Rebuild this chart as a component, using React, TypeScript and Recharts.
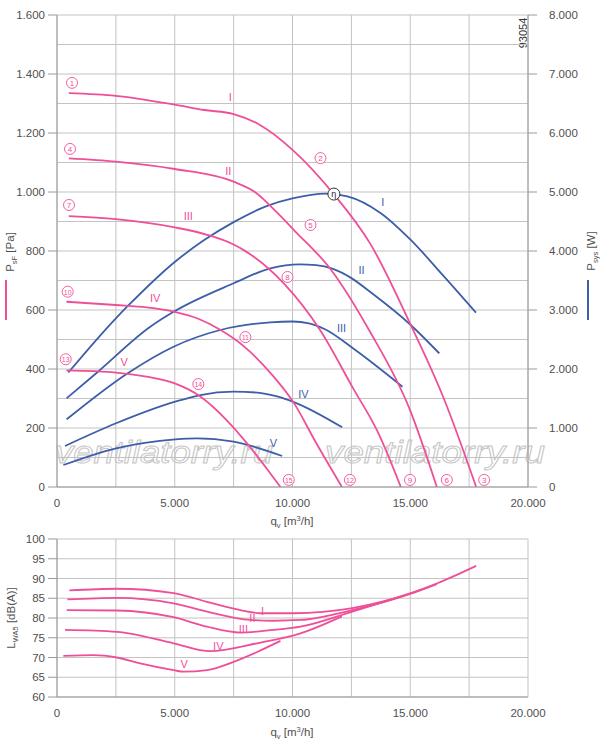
import React from 'react';
import { ComposedChart, Line, XAxis, YAxis, CartesianGrid, ReferenceDot } from 'recharts';

type Pt = [number, number];

// axis ticks
const flowTicks = [0, 2500, 5000, 7500, 10000, 12500, 15000, 17500, 20000];
const pressureTicks = [0, 100, 200, 300, 400, 500, 600, 700, 800, 900, 1000, 1100, 1200, 1300, 1400, 1500, 1600];
const powerTicks = [0, 1000, 2000, 3000, 4000, 5000, 6000, 7000, 8000];
const soundTicks = [60, 65, 70, 75, 80, 85, 90, 95, 100];

// static pressure psF [Pa] vs qv [m3/h], speeds I..V
const pressureI: Pt[] = [[500, 1335], [2500, 1326], [5000, 1296], [6250, 1278], [7500, 1264], [8600, 1228], [10000, 1143], [11750, 993], [13300, 825], [15000, 553], [16400, 305], [17800, 0]];
const pressureII: Pt[] = [[500, 1114], [2500, 1103], [5000, 1078], [7500, 1035], [8400, 1000], [9350, 930], [10050, 872], [11650, 735], [13280, 528], [14970, 265], [16130, 0]];
const pressureIII: Pt[] = [[500, 918], [2500, 908], [5000, 880], [6370, 855], [7500, 822], [7930, 803], [9630, 690], [11170, 532], [12570, 335], [13600, 190], [14600, 0]];
const pressureIV: Pt[] = [[400, 628], [2500, 617], [3800, 609], [5000, 594], [5950, 572], [6950, 532], [7950, 476], [9200, 374], [10050, 286], [11000, 150], [12100, 0]];
const pressureV: Pt[] = [[400, 395], [2500, 388], [3800, 374], [5000, 351], [6100, 306], [7200, 227], [8070, 148], [9060, 46], [9490, 0]];

// power Psys [W]
const powerI: Pt[] = [[480, 1940], [2500, 2860], [3050, 3085], [5000, 3814], [6250, 4185], [7500, 4490], [8900, 4760], [10000, 4890], [11400, 4972], [12330, 4925], [13750, 4640], [15020, 4187], [16440, 3565], [17790, 2955]];
const powerII: Pt[] = [[410, 1503], [1690, 1937], [3960, 2717], [4950, 2970], [7500, 3453], [9060, 3707], [10300, 3775], [11000, 3760], [11690, 3700], [12500, 3540], [13320, 3300], [15020, 2746], [16230, 2266]];
const powerIII: Pt[] = [[410, 1147], [3035, 1937], [4950, 2378], [6935, 2661], [9060, 2790], [10000, 2805], [10700, 2775], [11400, 2670], [12610, 2340], [14670, 1700]];
const powerIV: Pt[] = [[340, 695], [2510, 1080], [5020, 1446], [6085, 1559], [7500, 1615], [8500, 1600], [9300, 1540], [10055, 1440], [12110, 1012]];
const powerV: Pt[] = [[270, 373], [2510, 656], [5020, 808], [5940, 825], [7500, 768], [9560, 525]];

// sound power LWA5 [dB(A)]
const soundI: Pt[] = [[525, 87.0], [2540, 87.4], [4950, 86.3], [6370, 84.1], [7790, 82.0], [8640, 81.2], [10050, 81.2], [12540, 82.5], [15020, 86.3], [16150, 88.8], [17800, 93.2]];
const soundII: Pt[] = [[440, 84.7], [2540, 85.1], [4950, 83.7], [6370, 81.6], [8210, 79.5], [9200, 79.3], [10340, 79.5], [12540, 82.0], [15000, 86.1], [16130, 88.6]];
const soundIII: Pt[] = [[410, 82.0], [2540, 81.9], [4950, 80.2], [6370, 77.8], [7790, 76.3], [9200, 77.0], [10340, 77.8], [12540, 81.6], [14600, 85.4]];
const soundIV: Pt[] = [[340, 77.0], [2540, 76.5], [4950, 73.6], [6500, 71.6], [8500, 73.6], [10340, 76.1], [12100, 80.4]];
const soundV: Pt[] = [[270, 70.4], [1550, 70.6], [2540, 70.0], [3530, 68.5], [4950, 66.8], [5380, 66.4], [6370, 66.8], [7500, 68.9], [8500, 71.4], [9490, 74.2]];

const speeds = ['I', 'II', 'III', 'IV', 'V'];

// annotation anchors (data units)
const pointTags: [string, number, number][] = [
  ['1', 638, 1370], ['4', 553, 1146], ['7', 510, 956], ['10', 455, 662], ['13', 370, 433],
  ['2', 11190, 1115], ['5', 10765, 888], ['8', 9787, 712], ['11', 7999, 508], ['14', 6000, 349],
  ['15', 9842, 24], ['12', 12437, 24], ['9', 14990, 24], ['6', 16552, 24], ['3', 18139, 24],
];
const pressureTags: Pt[] = [[7361, 1322], [7276, 1071], [5574, 919], [4170, 641], [2851, 424]];
const powerTags: Pt[] = [[13829, 4831], [12935, 3678], [12084, 2695], [10467, 1576], [9191, 746]];
const soundTags: Pt[] = [[8723, 81.8], [8297, 80.0], [7914, 77.2], [6850, 72.9], [5404, 68.3]];
const bestPoint: Pt = [11757, 993];

const PINK = '#ef4f98';
const BLUE = '#3d5ea8';
const GRID = '#c3c3c3';
const AXIS = '#9a9a9a';
const TXT = '#505050';
const FONT = 'Liberation Sans, Arial, sans-serif';

const fmt = (v: number) => String(v).replace(/\B(?=(\d{3})+(?!\d))/g, '.');
const rows = (pts: Pt[]) => pts.map(([q, v]) => ({ q, v }));

const leftTick = (step: number) => (p: any) => {
  const v = p.payload.value;
  if (v % step !== 0) return <g />;
  return (
    <g>
      <line x1={p.x - 9} x2={p.x} y1={p.y} y2={p.y} stroke={AXIS} />
      <text x={p.x - 12} y={p.y + 4} textAnchor="end" fontSize={11.5} fill={TXT} fontFamily={FONT}>{fmt(v)}</text>
    </g>
  );
};

const rightTick = (p: any) => (
  <g>
    <line x1={p.x} x2={p.x + 9} y1={p.y} y2={p.y} stroke={AXIS} />
    <text x={p.x + 21} y={p.y + 4} textAnchor="start" fontSize={11.5} fill={TXT} fontFamily={FONT}>{fmt(p.payload.value)}</text>
  </g>
);

const flowTick = (p: any) => {
  const v = p.payload.value;
  if (v % 5000 !== 0) return <g />;
  return <text x={p.x} y={p.y + 20} textAnchor="middle" fontSize={11.5} fill={TXT} fontFamily={FONT}>{fmt(v)}</text>;
};

const circledTag = (n: string) => (p: any) => (
  <g>
    <circle cx={p.cx} cy={p.cy} r={5.5} fill="#fff" stroke={PINK} strokeWidth={0.9} />
    <text x={p.cx} y={p.cy + 2.8} textAnchor="middle" fontSize={n.length > 1 ? 7 : 8} fill={PINK} fontFamily={FONT}>{n}</text>
  </g>
);

const textTag = (t: string, color: string) => (p: any) => (
  <text x={p.cx} y={p.cy + 4} textAnchor="middle" fontSize={11} fill={color} fontFamily={FONT}>{t}</text>
);

const bestTag = (p: any) => (
  <g>
    <circle cx={p.cx} cy={p.cy} r={6} fill="#fff" stroke="#333" strokeWidth={1} />
    <text x={p.cx} y={p.cy + 3} textAnchor="middle" fontSize={9} fill="#222" fontFamily={FONT}>η</text>
  </g>
);

const pressureSeries = [pressureI, pressureII, pressureIII, pressureIV, pressureV];
const powerSeries = [powerI, powerII, powerIII, powerIV, powerV];
const soundSeries = [soundI, soundII, soundIII, soundIV, soundV];

const Backdrop = () => (
  <svg width={600} height={747} style={{ position: 'absolute', left: 0, top: 0 }}>
    <g fontFamily={FONT} fill={TXT}>
      <text x={292} y={525} textAnchor="middle" fontSize={11.5}>q<tspan fontSize={7.5} dy={3}>v</tspan><tspan dy={-3}> [m</tspan><tspan fontSize={7.5} dy={-4}>3</tspan><tspan dy={4}>/h]</tspan></text>
      <text x={292} y={736} textAnchor="middle" fontSize={11.5}>q<tspan fontSize={7.5} dy={3}>v</tspan><tspan dy={-3}> [m</tspan><tspan fontSize={7.5} dy={-4}>3</tspan><tspan dy={4}>/h]</tspan></text>
      <text transform="rotate(-90 14 252)" x={14} y={252} textAnchor="middle" fontSize={11.5}>P<tspan fontSize={7.5} dy={3}>sF</tspan><tspan dy={-3}> [Pa]</tspan></text>
      <text transform="rotate(-90 595 251)" x={595} y={251} textAnchor="middle" fontSize={11.5}>P<tspan fontSize={7.5} dy={3}>sys</tspan><tspan dy={-3}> [W]</tspan></text>
      <text transform="rotate(-90 15 618)" x={15} y={618} textAnchor="middle" fontSize={11.5}>L<tspan fontSize={7.5} dy={3}>WA5</tspan><tspan dy={-3}> [dB(A)]</tspan></text>
      <text transform="rotate(-90 527 33)" x={527} y={33} textAnchor="middle" fontSize={11} fill="#333">93054</text>
    </g>
    <line x1={6} x2={6} y1={280} y2={320} stroke={PINK} strokeWidth={2} />
    <line x1={588} x2={588} y1={280} y2={320} stroke={BLUE} strokeWidth={2} />
    <g fontFamily={FONT} fontStyle="italic" fontSize={32} fill="#fff" stroke="#c6c6c6" strokeWidth={1}>
      <text x={55} y={463} textLength={218} lengthAdjust="spacingAndGlyphs">ventilatorry.ru</text>
      <text x={325} y={463} textLength={220} lengthAdjust="spacingAndGlyphs">ventilatorry.ru</text>
    </g>
  </svg>
);

export default function App() {
  return (
    <div style={{ position: 'absolute', left: 0, top: 0, width: 600, height: 747, background: '#fff' }}>
      <Backdrop />
      <div style={{ position: 'absolute', left: 0, top: 0 }}>
        <ComposedChart width={600} height={530} margin={{ top: 15, right: 0, bottom: 13, left: 0 }}>
          <CartesianGrid stroke={GRID} />
          <XAxis type="number" dataKey="q" domain={[0, 20000]} ticks={flowTicks} interval={0} height={30}
            tick={flowTick} tickLine={false} tickSize={0} tickMargin={0} axisLine={{ stroke: AXIS }} allowDataOverflow />
          <YAxis type="number" domain={[0, 1600]} ticks={pressureTicks} interval={0} width={57}
            tick={leftTick(200)} tickLine={false} tickSize={0} tickMargin={0} axisLine={{ stroke: AXIS }} allowDataOverflow />
          <YAxis yAxisId="w" orientation="right" type="number" domain={[0, 8000]} ticks={powerTicks} interval={0} width={72}
            tick={rightTick} tickLine={false} tickSize={0} tickMargin={0} axisLine={{ stroke: AXIS }} allowDataOverflow />
          {powerSeries.map((s, i) => (
            <Line key={'w' + i} yAxisId="w" data={rows(s)} dataKey="v" type="monotone" stroke={BLUE} strokeWidth={1.8}
              dot={false} activeDot={false} isAnimationActive={false} />
          ))}
          {pressureSeries.map((s, i) => (
            <Line key={'p' + i} data={rows(s)} dataKey="v" type="monotone" stroke={PINK} strokeWidth={1.8}
              dot={false} activeDot={false} isAnimationActive={false} />
          ))}
          {pressureTags.map(([q, v], i) => (
            <ReferenceDot key={'pt' + i} x={q} y={v} r={1} shape={textTag(speeds[i], PINK)} />
          ))}
          {powerTags.map(([q, v], i) => (
            <ReferenceDot key={'wt' + i} yAxisId="w" x={q} y={v} r={1} shape={textTag(speeds[i], BLUE)} />
          ))}
          {pointTags.map(([n, q, v]) => (
            <ReferenceDot key={'c' + n} x={q} y={v} r={5} shape={circledTag(n)} />
          ))}
          <ReferenceDot x={bestPoint[0]} y={bestPoint[1]} r={6} shape={bestTag} />
        </ComposedChart>
      </div>
      <div style={{ position: 'absolute', left: 0, top: 530 }}>
        <ComposedChart width={600} height={217} margin={{ top: 9, right: 72, bottom: 20, left: 0 }}>
          <CartesianGrid stroke={GRID} />
          <XAxis type="number" dataKey="q" domain={[0, 20000]} ticks={flowTicks} interval={0} height={30}
            tick={flowTick} tickLine={false} tickSize={0} tickMargin={0} axisLine={{ stroke: AXIS }} allowDataOverflow />
          <YAxis type="number" domain={[60, 100]} ticks={soundTicks} interval={0} width={57}
            tick={leftTick(5)} tickLine={false} tickSize={0} tickMargin={0} axisLine={{ stroke: AXIS }} allowDataOverflow />
          {soundSeries.map((s, i) => (
            <Line key={'s' + i} data={rows(s)} dataKey="v" type="monotone" stroke={PINK} strokeWidth={1.8}
              dot={false} activeDot={false} isAnimationActive={false} />
          ))}
          {soundTags.map(([q, v], i) => (
            <ReferenceDot key={'st' + i} x={q} y={v} r={1} shape={textTag(speeds[i], PINK)} />
          ))}
        </ComposedChart>
      </div>
    </div>
  );
}
